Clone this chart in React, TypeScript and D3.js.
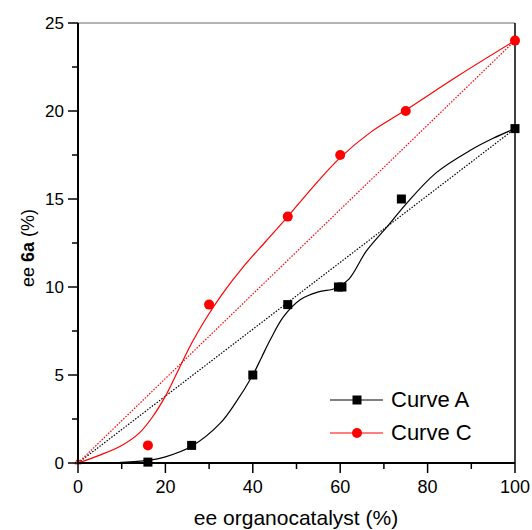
import { useEffect, useRef } from "react";
import * as d3 from "d3";

// measured points
const curveA = [
  [16, 0.05], [26, 1], [40, 5], [48, 9], [59.6, 10], [60.4, 10], [74, 15], [100, 19],
];
const curveC = [
  [16, 1], [30, 9], [48, 14], [60, 17.5], [75, 20], [100, 24],
];

// fitted curves
const fitA = [
  [0, 0], [10, 0.04], [16, 0.15], [20, 0.35], [26, 0.95], [32.5, 2.25], [36, 3.4], [40, 5],
  [42, 6], [44, 7], [47, 8.3], [51, 9.3], [55, 9.72], [59, 9.93], [62, 10.45], [66, 12.05],
  [71, 13.5], [75, 14.7], [82, 16.5], [90, 17.8], [95, 18.45], [100, 19],
];
const fitC = [
  [0, 0], [5, 0.45], [10, 1], [14, 1.7], [17, 2.6], [20, 3.8], [23, 5.3], [26, 6.8],
  [29, 8.1], [33, 9.6], [38, 11.2], [43, 12.6], [48, 14], [54, 15.75], [60, 17.35],
  [67, 18.8], [75, 20.05], [87, 22], [100, 24],
];

// straight reference lines
const refA = [[0, 0], [100, 19]];
const refC = [[0, 0], [100, 24]];

const xTicks = [0, 20, 40, 60, 80, 100];
const xMinor = [10, 30, 50, 70, 90];
const yTicks = [0, 5, 10, 15, 20, 25];
const yMinor = [2.5, 7.5, 12.5, 17.5, 22.5];

export default function App() {
  const ref = useRef<SVGSVGElement>(null);

  useEffect(() => {
    const svg = d3.select(ref.current);
    svg.selectAll("*").remove();

    const x = d3.scaleLinear().domain([0, 100]).range([78, 515]);
    const y = d3.scaleLinear().domain([0, 25]).range([463, 23]);
    const font = "Liberation Sans, Arial, sans-serif";

    // frame top/right
    svg.append("line").attr("x1", x(0)).attr("x2", x(100)).attr("y1", y(25)).attr("y2", y(25))
      .attr("stroke", "#666").attr("stroke-width", 1);
    svg.append("line").attr("x1", x(100)).attr("x2", x(100)).attr("y1", y(25)).attr("y2", y(0))
      .attr("stroke", "#000").attr("stroke-width", 1.5);

    const line = d3.line<number[]>().x(d => x(d[0])).y(d => y(d[1]));
    const smooth = d3.line<number[]>().x(d => x(d[0])).y(d => y(d[1])).curve(d3.curveCatmullRom.alpha(0.5));

    svg.append("path").datum(refA).attr("d", line).attr("fill", "none")
      .attr("stroke", "#000").attr("stroke-width", 1.2).attr("stroke-dasharray", "1.5,1.5");
    svg.append("path").datum(refC).attr("d", line).attr("fill", "none")
      .attr("stroke", "#f00").attr("stroke-width", 1.2).attr("stroke-dasharray", "1.5,1.5");
    svg.append("path").datum(fitA).attr("d", smooth).attr("fill", "none")
      .attr("stroke", "#000").attr("stroke-width", 1.2);
    svg.append("path").datum(fitC).attr("d", smooth).attr("fill", "none")
      .attr("stroke", "#f00").attr("stroke-width", 1.2);

    // markers
    svg.selectAll(".sqA").data(curveA).enter().append("rect")
      .attr("x", d => x(d[0]) - 4.5).attr("y", d => y(d[1]) - 4.5)
      .attr("width", 9).attr("height", 9).attr("fill", "#000");
    svg.selectAll(".ciC").data(curveC).enter().append("circle")
      .attr("cx", d => x(d[0])).attr("cy", d => y(d[1])).attr("r", 5).attr("fill", "#f00");
    svg.append("path")
      .attr("d", d3.symbol(d3.symbolTriangle, 18)())
      .attr("transform", `translate(${x(0)},${y(0) - 1})`)
      .attr("fill", "none").attr("stroke", "#f00").attr("stroke-width", 1);

    // axes
    const xAxis = svg.append("g").attr("transform", `translate(0,${y(0)})`);
    xAxis.append("line").attr("x1", x(0) - 1).attr("x2", x(100)).attr("stroke", "#000").attr("stroke-width", 2);
    xAxis.selectAll(".maj").data(xTicks).enter().append("line")
      .attr("x1", d => x(d)).attr("x2", d => x(d)).attr("y1", 0).attr("y2", 10)
      .attr("stroke", "#000").attr("stroke-width", 1.5);
    xAxis.selectAll(".min").data(xMinor).enter().append("line")
      .attr("x1", d => x(d)).attr("x2", d => x(d)).attr("y1", 0).attr("y2", 6)
      .attr("stroke", "#000").attr("stroke-width", 1.5);
    xAxis.selectAll(".lab").data(xTicks).enter().append("text")
      .attr("x", d => x(d)).attr("y", 30).attr("text-anchor", "middle")
      .attr("font-family", font).attr("font-size", 18).text(d => d);

    const yAxis = svg.append("g").attr("transform", `translate(${x(0)},0)`);
    yAxis.append("line").attr("y1", y(0) + 1).attr("y2", y(25)).attr("stroke", "#000").attr("stroke-width", 2);
    yAxis.selectAll(".maj").data(yTicks).enter().append("line")
      .attr("y1", d => y(d)).attr("y2", d => y(d)).attr("x1", 0).attr("x2", -10)
      .attr("stroke", "#000").attr("stroke-width", 1.5);
    yAxis.selectAll(".min").data(yMinor).enter().append("line")
      .attr("y1", d => y(d)).attr("y2", d => y(d)).attr("x1", 0).attr("x2", -6)
      .attr("stroke", "#000").attr("stroke-width", 1.5);
    yAxis.selectAll(".lab").data(yTicks).enter().append("text")
      .attr("x", -14).attr("y", d => y(d) + 6).attr("text-anchor", "end")
      .attr("font-family", font).attr("font-size", 17).text(d => d);

    // axis titles
    svg.append("text").attr("x", 296).attr("y", 525).attr("text-anchor", "middle")
      .attr("font-family", font).attr("font-size", 21).text("ee organocatalyst (%)");
    const yt = svg.append("text").attr("transform", `translate(34,248) rotate(-90)`)
      .attr("text-anchor", "middle").attr("font-family", font).attr("font-size", 18);
    yt.append("tspan").text("ee ");
    yt.append("tspan").attr("font-weight", "bold").text("6a");
    yt.append("tspan").text(" (%)");

    // legend
    const legend = [
      { name: "Curve A", color: "#000", shape: "square", ly: 400 },
      { name: "Curve C", color: "#f00", shape: "circle", ly: 433 },
    ];
    legend.forEach(l => {
      svg.append("line").attr("x1", 330).attr("x2", 383).attr("y1", l.ly).attr("y2", l.ly)
        .attr("stroke", l.color).attr("stroke-width", 1.2);
      if (l.shape === "square") {
        svg.append("rect").attr("x", 357 - 4.5).attr("y", l.ly - 4.5).attr("width", 9).attr("height", 9).attr("fill", l.color);
      } else {
        svg.append("circle").attr("cx", 357).attr("cy", l.ly).attr("r", 5).attr("fill", l.color);
      }
      svg.append("text").attr("x", 391).attr("y", l.ly + 6.5).attr("font-family", font).attr("font-size", 22)
        .text(l.name);
    });
  }, []);

  return (
    <svg ref={ref} width={532} height={530}
      style={{ position: "absolute", left: 0, top: 0, background: "#fff" }} />
  );
}
